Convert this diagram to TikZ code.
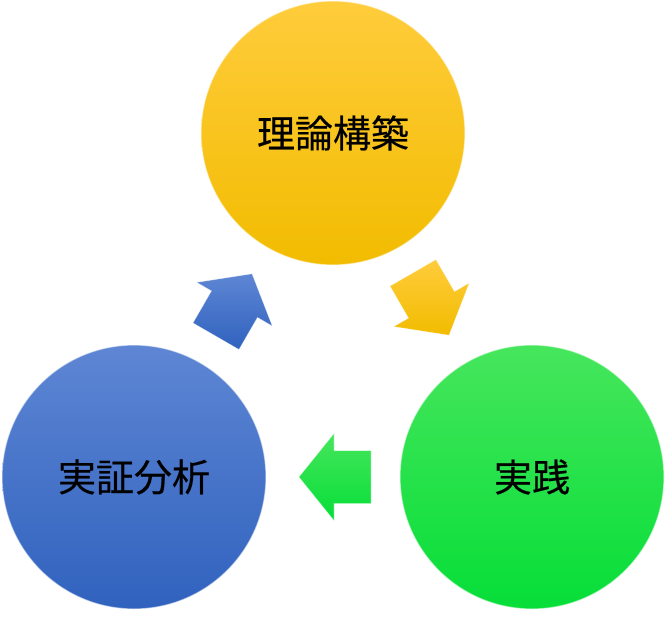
\documentclass[tikz,border=0pt]{standalone}
\usepackage{fontspec}
\newfontfamily\cjk[FakeBold=1]{Noto Sans CJK JP}
\begin{document}
\begin{tikzpicture}[x=1pt,y=1pt,
  ball/.style={circle, minimum size=264pt, inner sep=0pt, font=\cjk\fontsize{38}{38}\selectfont, text=black},
  rim/.style={draw=white, draw opacity=0.55, line width=1.2pt},
  arr/.style={draw=white, draw opacity=0.4, line width=0.6pt}
]
\definecolor{ytop}{RGB}{255,204,60}
\definecolor{ybot}{RGB}{242,188,0}
\definecolor{btop}{RGB}{94,134,212}
\definecolor{bbot}{RGB}{48,98,190}
\definecolor{gtop}{RGB}{70,230,92}
\definecolor{gbot}{RGB}{6,222,56}
\useasboundingbox (0,0) rectangle (666,-616);
\def\arrowpath{(-36,-26.5) -- (1,-26.5) -- (1,-43.5) -- (36,0) -- (1,43.5) -- (1,26.5) -- (-36,26.5) -- cycle}
% circles
\node[ball, top color=ytop, bottom color=ybot, rim] (theory) at (333,-133) {理論構築};
\node[ball, top color=gtop, bottom color=gbot, rim] (practice) at (532,-477) {実践};
\node[ball, top color=btop, bottom color=bbot, rim] (empirical) at (134,-477) {実証分析};
% arrows
\path[top color=ytop, bottom color=ybot, arr, shift={(431,-304)}, rotate=-60] \arrowpath;
\path[top color=gtop, bottom color=gbot, arr, shift={(335,-477)}, rotate=180] \arrowpath;
\path[top color=btop, bottom color=bbot, arr, shift={(234,-305)}, rotate=60] \arrowpath;
\end{tikzpicture}
\end{document}
